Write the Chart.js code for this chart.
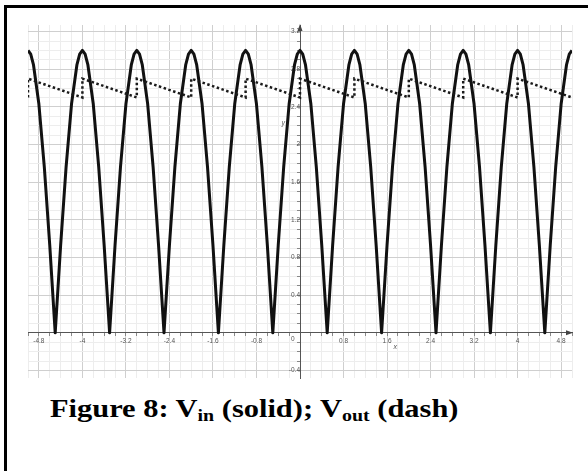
<!DOCTYPE html>
<html lang="en">
<head>
    <meta charset="UTF-8">
    <title>Figure 8: Vin (solid); Vout (dash)</title>
    <script src="https://cdn.jsdelivr.net/npm/chart.js"></script>
    <style>
        body {
            margin: 0;
            padding: 0;
            background: white;
        }
        .page {
            position: relative;
            width: 588px;
            height: 471px;
            overflow: hidden;
            background: white;
        }
        .frame {
            position: absolute;
            left: 4px;
            top: 5px;
            width: 600px;
            height: 480px;
            border-left: 3px solid #000;
            border-top: 3px solid #000;
        }
        .plot {
            position: absolute;
            left: 0;
            top: 0;
            width: 588px;
            height: 390px;
        }
        .caption {
            position: absolute;
            left: 50px;
            top: 394px;
            font-family: "Liberation Serif", "Times New Roman", serif;
            font-weight: bold;
            font-size: 26px;
            line-height: 30px;
            color: #000;
            white-space: nowrap;
            transform: scaleX(1.17);
            transform-origin: left top;
        }
        .caption sub {
            font-size: 17px;
            line-height: 0;
            vertical-align: -4px;
        }
    </style>
</head>
<body>
    <div class="page">
        <div class="frame"></div>
        <div class="plot"><canvas id="waveChart"></canvas></div>
        <div class="caption">Figure 8: V<sub>in</sub> (solid); V<sub>out</sub> (dash)</div>
    </div>

    <script>
        // V_in: rectified sine (extra points around each peak)
        const vinX = [
            -5, -4.95, -4.9, -4.8, -4.7, -4.6, -4.5, -4.4, -4.3, -4.2, -4.1, -4.05,
            -4, -3.95, -3.9, -3.8, -3.7, -3.6, -3.5, -3.4, -3.3, -3.2, -3.1, -3.05,
            -3, -2.95, -2.9, -2.8, -2.7, -2.6, -2.5, -2.4, -2.3, -2.2, -2.1, -2.05,
            -2, -1.95, -1.9, -1.8, -1.7, -1.6, -1.5, -1.4, -1.3, -1.2, -1.1, -1.05,
            -1, -0.95, -0.9, -0.8, -0.7, -0.6, -0.5, -0.4, -0.3, -0.2, -0.1, -0.05,
            0, 0.05, 0.1, 0.2, 0.3, 0.4, 0.5, 0.6, 0.7, 0.8, 0.9, 0.95,
            1, 1.05, 1.1, 1.2, 1.3, 1.4, 1.5, 1.6, 1.7, 1.8, 1.9, 1.95,
            2, 2.05, 2.1, 2.2, 2.3, 2.4, 2.5, 2.6, 2.7, 2.8, 2.9, 2.95,
            3, 3.05, 3.1, 3.2, 3.3, 3.4, 3.5, 3.6, 3.7, 3.8, 3.9, 3.95,
            4, 4.05, 4.1, 4.2, 4.3, 4.4, 4.5, 4.6, 4.7, 4.8, 4.9, 4.95,
            5
        ];
        const vinY = [
            3, 2.96, 2.85, 2.43, 1.76, 0.93, 0, 0.93, 1.76, 2.43, 2.85, 2.96,
            3, 2.96, 2.85, 2.43, 1.76, 0.93, 0, 0.93, 1.76, 2.43, 2.85, 2.96,
            3, 2.96, 2.85, 2.43, 1.76, 0.93, 0, 0.93, 1.76, 2.43, 2.85, 2.96,
            3, 2.96, 2.85, 2.43, 1.76, 0.93, 0, 0.93, 1.76, 2.43, 2.85, 2.96,
            3, 2.96, 2.85, 2.43, 1.76, 0.93, 0, 0.93, 1.76, 2.43, 2.85, 2.96,
            3, 2.96, 2.85, 2.43, 1.76, 0.93, 0, 0.93, 1.76, 2.43, 2.85, 2.96,
            3, 2.96, 2.85, 2.43, 1.76, 0.93, 0, 0.93, 1.76, 2.43, 2.85, 2.96,
            3, 2.96, 2.85, 2.43, 1.76, 0.93, 0, 0.93, 1.76, 2.43, 2.85, 2.96,
            3, 2.96, 2.85, 2.43, 1.76, 0.93, 0, 0.93, 1.76, 2.43, 2.85, 2.96,
            3, 2.96, 2.85, 2.43, 1.76, 0.93, 0, 0.93, 1.76, 2.43, 2.85, 2.96,
            3
        ];

        // V_out: sawtooth (jump up at each peak, then slow decay)
        const voutX = [-5, -5, -4, -4, -3, -3, -2, -2, -1, -1, 0, 0, 1, 1, 2, 2, 3, 3, 4, 4, 5];
        const voutY = [2.5, 2.7, 2.5, 2.7, 2.5, 2.7, 2.5, 2.7, 2.5, 2.7, 2.5, 2.7, 2.5, 2.7, 2.5, 2.7, 2.5, 2.7, 2.5, 2.7, 2.5];

        // axis ticks
        const xTickStep = 0.2;
        const xLabelStep = 0.8;
        const yTickStep = 0.1;
        const yLabelStep = 0.4;

        function isMultiple(v, step) {
            const r = v / step;
            return Math.abs(r - Math.round(r)) < 1e-6;
        }

        function fmt(v) {
            return String(Math.round(v * 10) / 10);
        }

        // little extras: axis arrows, axis names and the origin "0"
        const axisExtras = {
            id: 'axisExtras',
            afterDatasetsDraw(chart) {
                const ctx = chart.ctx;
                const xs = chart.scales.x;
                const ys = chart.scales.y;
                const area = chart.chartArea;
                const x0 = xs.getPixelForValue(0);
                const y0 = ys.getPixelForValue(0);
                ctx.save();
                ctx.fillStyle = '#444';
                // arrow on top of y axis
                ctx.beginPath();
                ctx.moveTo(x0, area.top - 1);
                ctx.lineTo(x0 - 2.5, area.top + 6);
                ctx.lineTo(x0 + 2.5, area.top + 6);
                ctx.closePath();
                ctx.fill();
                // arrow at right of x axis
                ctx.beginPath();
                ctx.moveTo(area.right + 1, y0);
                ctx.lineTo(area.right - 6, y0 - 2.5);
                ctx.lineTo(area.right - 6, y0 + 2.5);
                ctx.closePath();
                ctx.fill();

                ctx.font = '6.5px "Liberation Sans", Arial, sans-serif';
                ctx.fillStyle = '#555';
                ctx.textAlign = 'center';
                ctx.textBaseline = 'middle';
                ctx.fillText('0', xs.getPixelForValue(-0.13), ys.getPixelForValue(-0.07));
                ctx.font = 'italic 7px "Liberation Sans", Arial, sans-serif';
                ctx.fillText('x', xs.getPixelForValue(1.75), ys.getPixelForValue(-0.15));
                ctx.fillText('y', xs.getPixelForValue(-0.31), ys.getPixelForValue(2.23));
                ctx.restore();
            }
        };

        const tickFont = { family: '"Liberation Sans", Arial, sans-serif', size: 6.5 };

        new Chart(document.getElementById('waveChart'), {
            type: 'line',
            data: {
                datasets: [
                    {
                        label: 'Vout (dash)',
                        data: voutX.map((x, i) => ({ x: x, y: voutY[i] })),
                        borderColor: '#1a1a1a',
                        borderWidth: 2.5,
                        borderDash: [2.5, 2.5],
                        pointRadius: 0,
                        tension: 0,
                        fill: false
                    },
                    {
                        label: 'Vin (solid)',
                        data: vinX.map((x, i) => ({ x: x, y: vinY[i] })),
                        borderColor: '#111',
                        borderWidth: 3,
                        pointRadius: 0,
                        tension: 0,
                        borderJoinStyle: 'round',
                        fill: false
                    }
                ]
            },
            options: {
                responsive: true,
                maintainAspectRatio: false,
                animation: false,
                layout: {
                    padding: { left: 28, top: 25, right: 16, bottom: 12 }
                },
                plugins: {
                    legend: { display: false },
                    tooltip: { enabled: false }
                },
                scales: {
                    x: {
                        type: 'linear',
                        position: { y: 0 },
                        min: -5,
                        max: 5,
                        grid: {
                            color: c => isMultiple(c.tick.value, xLabelStep) ? '#cfcfcf' : '#ededed',
                            tickLength: 3,
                            tickColor: '#888'
                        },
                        border: { display: true, color: '#555', width: 1 },
                        ticks: {
                            stepSize: xTickStep,
                            autoSkip: false,
                            maxRotation: 0,
                            includeBounds: false,
                            padding: 1,
                            color: '#555',
                            font: tickFont,
                            callback: v => (isMultiple(v, xLabelStep) && Math.abs(v) > 1e-6) ? fmt(v) : ''
                        }
                    },
                    y: {
                        type: 'linear',
                        position: { x: 0 },
                        min: -0.48,
                        max: 3.27,
                        grid: {
                            color: c => isMultiple(c.tick.value, yLabelStep) ? '#cfcfcf' : '#ededed',
                            tickLength: 3,
                            tickColor: '#888'
                        },
                        border: { display: true, color: '#555', width: 1 },
                        ticks: {
                            stepSize: yTickStep,
                            autoSkip: false,
                            includeBounds: false,
                            padding: 1,
                            color: '#555',
                            font: tickFont,
                            callback: v => (isMultiple(v, yLabelStep) && Math.abs(v) > 1e-6) ? fmt(v) : ''
                        }
                    }
                }
            },
            plugins: [axisExtras]
        });
    </script>
</body>
</html>
